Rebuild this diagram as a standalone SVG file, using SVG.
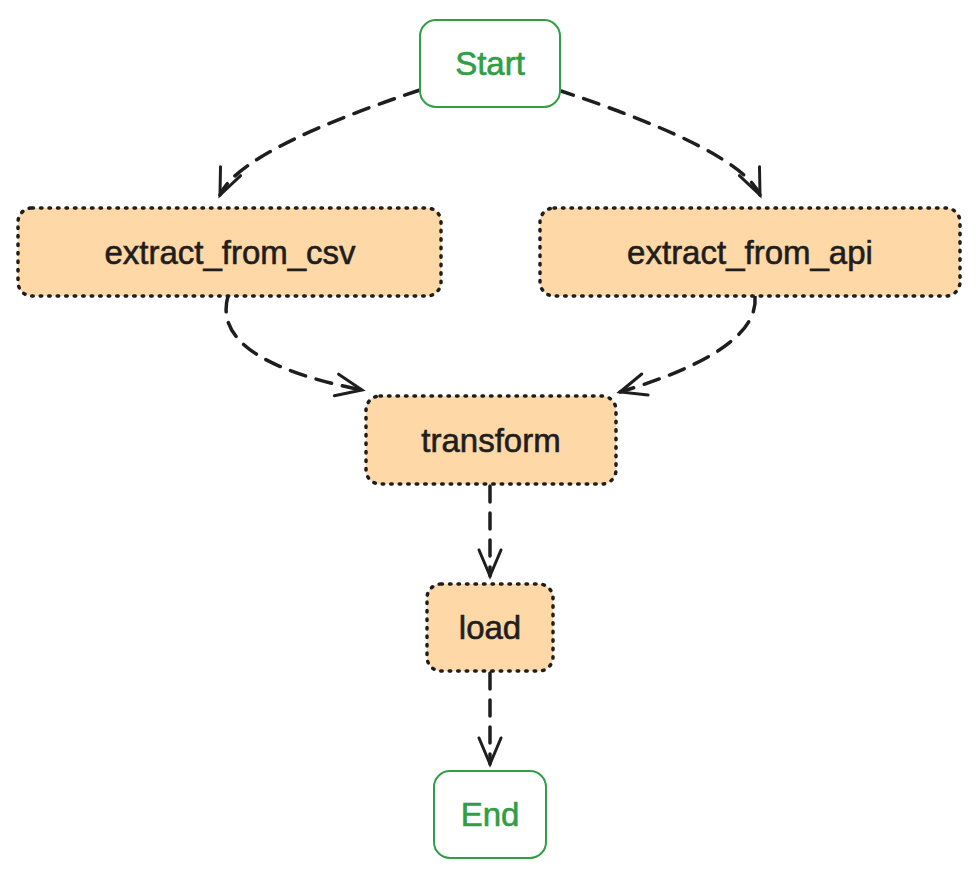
<svg xmlns="http://www.w3.org/2000/svg" width="980" height="879" viewBox="0 0 980 879">
<defs>
<style>
.task{fill:#ffd8a8;stroke:#1e1e1e;stroke-width:3.5;stroke-dasharray:1.5 7;stroke-linecap:round}
.term{fill:#fff;stroke:#2f9e44;stroke-width:2}
.t{font-family:"Liberation Sans",sans-serif;font-size:33px;text-anchor:middle;dominant-baseline:central;fill:#1e1e1e;stroke:#1e1e1e;stroke-width:0.6}
.g{fill:#2f9e44;stroke:#2f9e44}
.e{fill:none;stroke:#1e1e1e;stroke-width:3.5;stroke-dasharray:16 11;stroke-linecap:round}
</style>
<marker id="a" markerWidth="40" markerHeight="40" refX="28" refY="14" orient="auto" markerUnits="userSpaceOnUse" viewBox="0 0 40 28">
<path d="M2 3 L28 14 L2 25" fill="none" stroke="#1e1e1e" stroke-width="3" stroke-linecap="round"/>
</marker>
</defs>
<g id="edges">
<path class="e" d="M420 90 Q240 150 220 195" marker-end="url(#a)"/>
<path class="e" d="M558 90 Q740 150 760 195" marker-end="url(#a)"/>
<path class="e" d="M228 296 Q210 360 362 390" marker-end="url(#a)"/>
<path class="e" d="M755 296 Q760 350 620 392" marker-end="url(#a)"/>
<path class="e" d="M490 486 L490 576" marker-end="url(#a)"/>
<path class="e" d="M490 673 L490 764" marker-end="url(#a)"/>
</g>
<g id="start"><rect class="term" x="420" y="20" width="140" height="87" rx="16"/><text class="t g" x="490" y="63">Start</text></g>
<g id="extract_from_csv"><rect class="task" x="18" y="208" width="423" height="88" rx="14"/><text class="t" x="230" y="252">extract_from_csv</text></g>
<g id="extract_from_api"><rect class="task" x="540" y="208" width="420" height="88" rx="14"/><text class="t" x="750" y="252">extract_from_api</text></g>
<g id="transform"><rect class="task" x="366" y="396" width="250" height="88" rx="14"/><text class="t" x="491" y="440">transform</text></g>
<g id="load"><rect class="task" x="427" y="584" width="126" height="87" rx="14"/><text class="t" x="490" y="627">load</text></g>
<g id="end"><rect class="term" x="434" y="771" width="112" height="87" rx="16"/><text class="t g" x="490" y="814">End</text></g>
</svg>
